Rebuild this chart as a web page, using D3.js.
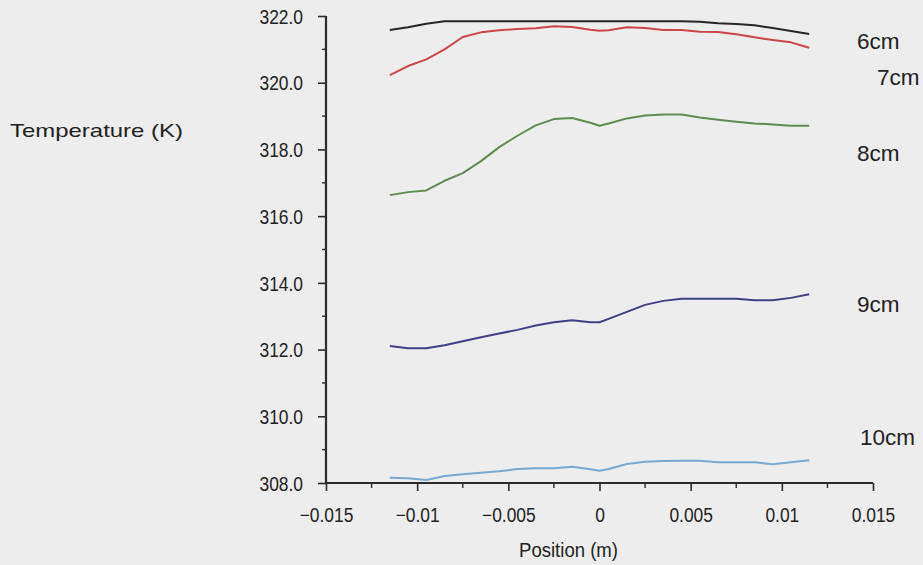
<!DOCTYPE html>
<html>
<head>
<meta charset="utf-8">
<script src="https://cdn.jsdelivr.net/npm/d3@7/dist/d3.min.js"></script>
<style>
  html, body { margin: 0; padding: 0; background: #ededed; }
  svg { display: block; font-family: "Liberation Sans", Arial, sans-serif; }
</style>
</head>
<body>
<svg id="chart" width="923" height="565"></svg>
<script>
// Radial positions (m) shared by every profile
const positions = [-0.0115, -0.0105, -0.0095, -0.0085, -0.0075, -0.0065, -0.0055, -0.0045,
  -0.0035, -0.0025, -0.0015, -0.0005, 0, 0.0005, 0.0015, 0.0025, 0.0035, 0.0045,
  0.0055, 0.0065, 0.0075, 0.0085, 0.0095, 0.0105, 0.0115];

// Temperature profiles (K) at each height
const temp6cm = [321.58, 321.66, 321.77, 321.84, 321.84, 321.84, 321.84, 321.84, 321.84,
  321.84, 321.84, 321.84, 321.84, 321.84, 321.84, 321.84, 321.84, 321.84,
  321.83, 321.78, 321.76, 321.72, 321.64, 321.55, 321.46];
const temp7cm = [320.23, 320.50, 320.70, 321.00, 321.37, 321.51, 321.57, 321.61, 321.63,
  321.69, 321.67, 321.59, 321.56, 321.57, 321.66, 321.64, 321.58, 321.58,
  321.53, 321.52, 321.45, 321.36, 321.28, 321.21, 321.05];
const temp8cm = [316.63, 316.72, 316.77, 317.06, 317.29, 317.65, 318.07, 318.41, 318.72,
  318.91, 318.94, 318.80, 318.71, 318.78, 318.93, 319.02, 319.05, 319.05,
  318.96, 318.89, 318.83, 318.78, 318.75, 318.71, 318.71];
const temp9cm = [312.11, 312.04, 312.04, 312.13, 312.25, 312.37, 312.48, 312.59, 312.72,
  312.82, 312.88, 312.82, 312.82, 312.92, 313.13, 313.34, 313.46, 313.52,
  313.52, 313.52, 313.52, 313.48, 313.48, 313.55, 313.66];
const temp10cm = [308.16, 308.14, 308.09, 308.21, 308.26, 308.31, 308.35, 308.42, 308.44,
  308.44, 308.49, 308.41, 308.37, 308.42, 308.57, 308.64, 308.66, 308.67,
  308.67, 308.62, 308.62, 308.62, 308.56, 308.62, 308.68];

const seriesNames = ["6cm", "7cm", "8cm", "9cm", "10cm"];
const seriesValues = [temp6cm, temp7cm, temp8cm, temp9cm, temp10cm];
const seriesColors = ["#262626", "#cc4548", "#5e8c50", "#3d4183", "#78a8d2"];

const xTicks = [-0.015, -0.01, -0.005, 0, 0.005, 0.01, 0.015];
const xTickLabels = ["\u22120.015", "\u22120.01", "\u22120.005", "0", "0.005", "0.01", "0.015"];
const yTicks = [308, 310, 312, 314, 316, 318, 320, 322];

const svg = d3.select("#chart");

const x = d3.scaleLinear().domain([-0.015, 0.015]).range([326, 873]);
const y = d3.scaleLinear().domain([308, 322]).range([483, 16]);

const axisColor = "#2b2b2b";
const textColor = "#222";

// Slightly condensed tick lettering
function condense(sel, k) {
  sel.each(function () {
    const len = this.getComputedTextLength();
    d3.select(this).attr("textLength", len * k).attr("lengthAdjust", "spacingAndGlyphs");
  });
}

// Minor ticks (between the labelled ones)
const xMinor = d3.range(-0.0125, 0.015, 0.005);
const yMinor = d3.range(309, 322, 2);

const yAxisG = svg.append("g").attr("transform", `translate(${x.range()[0]},0)`)
  .call(d3.axisLeft(y).tickValues(yTicks).tickFormat(d3.format(".1f")).tickSize(8).tickPadding(15));
yAxisG.selectAll(".tick line").attr("stroke", axisColor).attr("stroke-width", 1.6);
yAxisG.select(".domain").attr("stroke", axisColor).attr("stroke-width", 2.2)
  .attr("d", `M0,${y.range()[1]}V${y.range()[0]}`);
yAxisG.selectAll(".tick text").attr("fill", textColor).attr("font-size", 20).attr("dy", "0.36em")
  .call(condense, 0.87);

svg.append("g").selectAll("line").data(yMinor).join("line")
  .attr("x1", x.range()[0] - 4).attr("x2", x.range()[0])
  .attr("y1", d => y(d)).attr("y2", d => y(d))
  .attr("stroke", axisColor).attr("stroke-width", 1.4);

const xAxisG = svg.append("g").attr("transform", `translate(0,${y.range()[0]})`)
  .call(d3.axisBottom(x).tickValues(xTicks).tickFormat((d, i) => xTickLabels[i]).tickSize(8).tickPadding(17));
xAxisG.selectAll(".tick line").attr("stroke", axisColor).attr("stroke-width", 1.6);
xAxisG.select(".domain").attr("stroke", axisColor).attr("stroke-width", 2.2)
  .attr("d", `M${x.range()[0]},0H${x.range()[1]}`);
xAxisG.selectAll(".tick text").attr("fill", textColor).attr("font-size", 20)
  .call(condense, 0.87);

svg.append("g").selectAll("line").data(xMinor).join("line")
  .attr("x1", d => x(d)).attr("x2", d => x(d))
  .attr("y1", y.range()[0]).attr("y2", y.range()[0] + 5)
  .attr("stroke", axisColor).attr("stroke-width", 1.4);

// Temperature profiles
const line = d3.line()
  .x((d, i) => x(positions[i]))
  .y(d => y(d));

svg.append("g").selectAll("path").data(seriesValues).join("path")
  .attr("d", line)
  .attr("fill", "none")
  .attr("stroke", (d, i) => seriesColors[i])
  .attr("stroke-width", 2)
  .attr("stroke-linejoin", "round");

// Height labels beside each profile
const labelPos = [[857, 49], [877, 85], [857, 161], [857, 312], [860, 445]];
svg.append("g").selectAll("text").data(seriesNames).join("text")
  .attr("x", (d, i) => labelPos[i][0])
  .attr("y", (d, i) => labelPos[i][1])
  .attr("font-size", 22.5)
  .attr("fill", textColor)
  .text(d => d);

// Axis titles
svg.append("text")
  .attr("x", 10).attr("y", 137)
  .attr("font-size", 19)
  .attr("textLength", 173).attr("lengthAdjust", "spacingAndGlyphs")
  .attr("fill", textColor)
  .text("Temperature (K)");

svg.append("text")
  .attr("x", 519).attr("y", 557)
  .attr("font-size", 20.5)
  .attr("textLength", 99).attr("lengthAdjust", "spacingAndGlyphs")
  .attr("fill", textColor)
  .text("Position (m)");
</script>
</body>
</html>
